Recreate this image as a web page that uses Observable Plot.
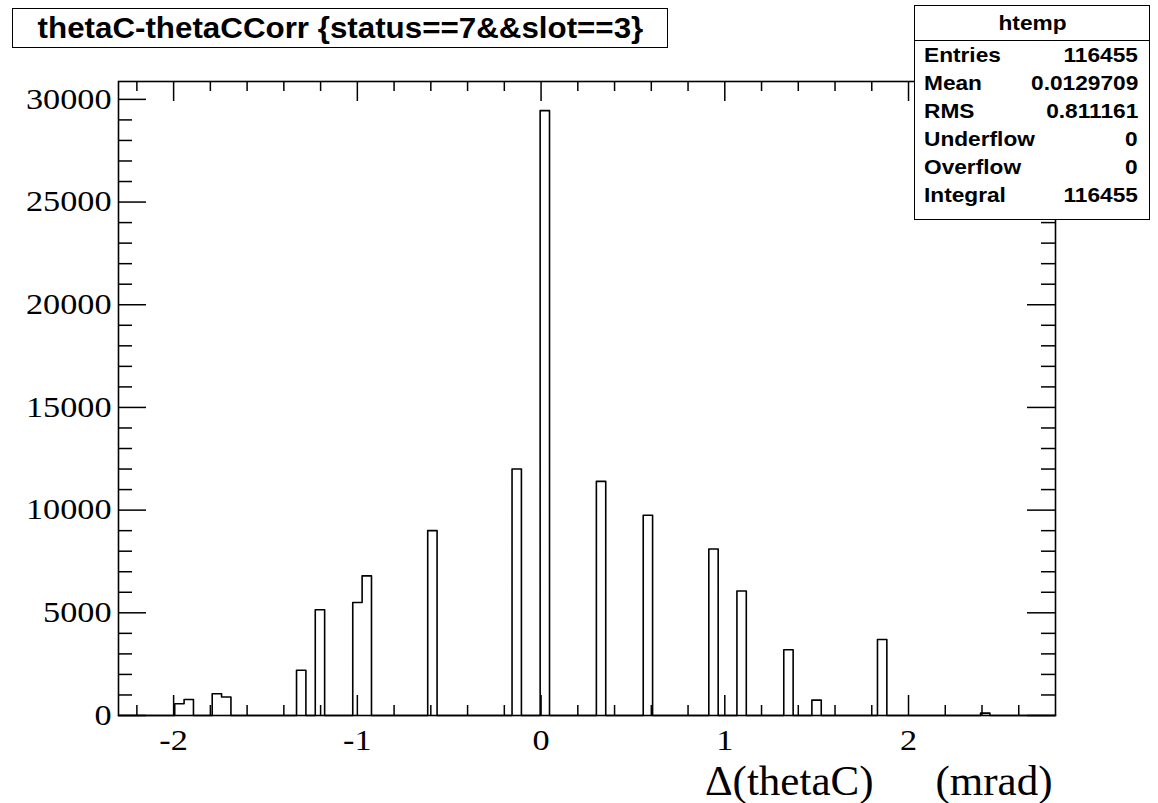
<!DOCTYPE html>
<html>
<head>
<meta charset="utf-8">
<script src="https://cdn.jsdelivr.net/npm/d3@7"></script>
<script src="https://cdn.jsdelivr.net/npm/@observablehq/plot@0.6"></script>
<style>
  html, body { margin: 0; padding: 0; background: #fff; }
  #wrap { position: relative; width: 1158px; height: 803px; overflow: hidden; background: #fff; }
  #chart { position: absolute; left: 0; top: 0; }
  #title {
    position: absolute; left: 12px; top: 8px; width: 656px; height: 40px;
    border: 1.5px solid #000; box-sizing: border-box; background: #fff;
    font-family: "Liberation Sans", Arial, sans-serif; font-weight: bold; font-size: 29px;
    display: flex; align-items: center; justify-content: center; white-space: nowrap;
  }
  #title span { display: inline-block; transform: scaleX(1.08); }
  #stats {
    position: absolute; left: 914px; top: 5px; width: 236px; height: 215px;
    border: 1.5px solid #000; box-sizing: border-box; background: #fff;
    font-family: "Liberation Sans", Arial, sans-serif; font-weight: bold; font-size: 21px;
  }
  #stats .hd { height: 34px; line-height: 34px; border-bottom: 1.5px solid #000; text-align: center; }
  #stats .row { display: flex; justify-content: space-between; height: 28px; line-height: 28px; padding: 0 11px 0 9px; }
  #stats .sx { display: inline-block; transform: scaleX(1.08); }
  #stats .l .sx { transform-origin: left center; }
  #stats .r .sx { transform-origin: right center; }
  #stats .hd .sx { transform-origin: center center; }
</style>
</head>
<body>
<div id="wrap">
  <div id="chart"></div>
  <div id="title"><span></span></div>
  <div id="stats"></div>
</div>
<script>
// ---- data ----
const titleText = "thetaC-thetaCCorr {status==7&&slot==3}";
const xTitleVar = "\u0394(thetaC)";
const xTitleUnit = "(mrad)";
const histName = "htemp";
const statLabels = ["Entries", "Mean", "RMS", "Underflow", "Overflow", "Integral"];
const statValues = ["116455", "0.0129709", "0.811161", "0", "0", "116455"];

// histogram definition: 100 bins over [-2.3, 2.8]
const xMin = -2.3, xMax = 2.8, nBins = 100;
// lower edges of non-empty bins and their contents
const binLow = [-1.994, -1.943, -1.790, -1.739, -1.331, -1.229, -1.025, -0.974, -0.617, -0.158,
                -0.005, 0.301, 0.556, 0.913, 1.066, 1.321, 1.474, 1.831, 2.392];
const counts = [570, 780, 1060, 900, 2200, 5150, 5500, 6800, 9000, 12000,
                29450, 11400, 9750, 8110, 6060, 3200, 750, 3700, 115];

const xTicks = [-2, -1, 0, 1, 2];
const yTicks = [0, 5000, 10000, 15000, 20000, 25000, 30000];
const yMax = 30870;

// ---- build full histogram outline ----
const binWidth = (xMax - xMin) / nBins;
const full = new Array(nBins).fill(0);
binLow.forEach((lo, i) => { full[Math.round((lo - xMin) / binWidth)] = counts[i]; });
const outline = full.map((c, i) => ({x: xMin + i * binWidth, y: c}));
outline.push({x: xMax, y: 0});

const xMinor = d3.range(-22, 28, 2).map(v => v / 10).filter(v => !xTicks.includes(v) && v > xMin && v < xMax);
const yMinor = d3.range(1000, yMax, 1000).filter(v => !yTicks.includes(v));

const W = 1158, H = 803, mL = 118, mR = 103, mT = 81, mB = 88;
const FW = W - mL - mR, FH = H - mT - mB;
const majX = 20, minX = 10, majY = 28, minY = 14;
const lw = 1.5;

const plot = Plot.plot({
  width: W, height: H,
  marginLeft: mL, marginRight: mR, marginTop: mT, marginBottom: mB,
  style: {background: "#fff", color: "#000", fontFamily: "'Liberation Serif', 'Times New Roman', serif"},
  x: {domain: [xMin, xMax]},
  y: {domain: [0, yMax]},
  marks: [
    Plot.line(outline, {x: "x", y: "y", curve: "step-after", stroke: "#000", strokeWidth: 1.6}),
    // bottom / top ticks
    Plot.tickX(xTicks, {x: d => d, stroke: "#000", strokeWidth: lw, insetTop: FH - majX}),
    Plot.tickX(xTicks, {x: d => d, stroke: "#000", strokeWidth: lw, insetBottom: FH - majX}),
    Plot.tickX(xMinor, {x: d => d, stroke: "#000", strokeWidth: lw, insetTop: FH - minX}),
    Plot.tickX(xMinor, {x: d => d, stroke: "#000", strokeWidth: lw, insetBottom: FH - minX}),
    // left / right ticks
    Plot.tickY(yTicks, {y: d => d, stroke: "#000", strokeWidth: lw, insetRight: FW - majY}),
    Plot.tickY(yTicks, {y: d => d, stroke: "#000", strokeWidth: lw, insetLeft: FW - majY}),
    Plot.tickY(yMinor, {y: d => d, stroke: "#000", strokeWidth: lw, insetRight: FW - minY}),
    Plot.tickY(yMinor, {y: d => d, stroke: "#000", strokeWidth: lw, insetLeft: FW - minY}),
    Plot.frame({stroke: "#000", strokeWidth: 1.6}),
    Plot.axisX(xTicks, {tickSize: 0, tickPadding: 14, fontSize: 29, tickFormat: d => String(d), label: null, fill: "#000"}),
    Plot.axisY(yTicks, {tickSize: 0, tickPadding: 7, fontSize: 29, tickFormat: d => String(d), label: null, fill: "#000"}),
    Plot.text([xTitleUnit], {text: d => d, frameAnchor: "bottom-right", dx: -3, dy: 79, fontSize: 43,
      textAnchor: "end", lineAnchor: "bottom", fill: "#000", ariaLabel: "x-title"}),
    Plot.text([xTitleVar], {text: d => d, frameAnchor: "bottom-right", dx: -182, dy: 79, fontSize: 43,
      textAnchor: "end", lineAnchor: "bottom", fill: "#000", ariaLabel: "x-title"})
  ]
});
document.getElementById("chart").appendChild(plot);

// widen the serif texts slightly, as in the reference raster
d3.select(plot).selectAll('g[aria-label="x-axis tick label"] text, g[aria-label="y-axis tick label"] text')
  .each(function() {
    const t = this.getAttribute("transform") || "";
    this.setAttribute("transform", t + " scale(1.18,1)");
  });
d3.select(plot).selectAll('g[aria-label="x-title"] text')
  .each(function() {
    const t = this.getAttribute("transform") || "";
    this.setAttribute("transform", t + " scale(1.06,1)");
  });

document.querySelector("#title span").textContent = titleText;

const stats = document.getElementById("stats");
const hd = document.createElement("div");
hd.className = "hd";
hd.innerHTML = `<span class="sx">${histName}</span>`;
stats.appendChild(hd);
statLabels.forEach((lab, i) => {
  const row = document.createElement("div");
  row.className = "row";
  row.innerHTML = `<span class="l"><span class="sx">${lab}</span></span><span class="r"><span class="sx">${statValues[i]}</span></span>`;
  stats.appendChild(row);
});
</script>
</body>
</html>
